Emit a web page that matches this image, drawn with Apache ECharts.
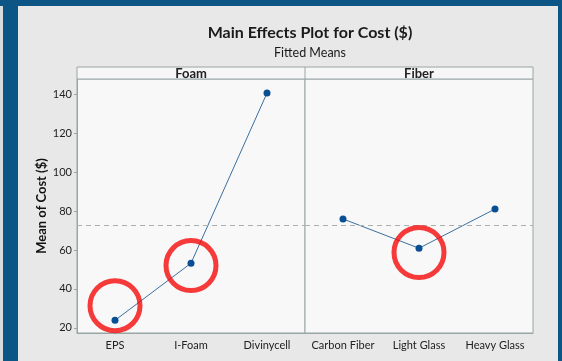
<!DOCTYPE html>
<html>
<head>
<meta charset="utf-8">
<script src="https://cdn.jsdelivr.net/npm/echarts@6/dist/echarts.min.js"></script>
<style>
  html, body { margin: 0; padding: 0; background: #e8e8e8; }
  #chart { width: 562px; height: 361px; }
</style>
</head>
<body>
<div id="chart"></div>
<script>
// Factor levels and fitted means of Cost ($)
const foamLevels = ['EPS', 'I-Foam', 'Divinycell'];
const foamMeans = [23.9, 53.2, 140.5];
const fiberLevels = ['Carbon Fiber', 'Light Glass', 'Heavy Glass'];
const fiberMeans = [75.9, 60.9, 81.0];
const grandMean = 72.8;
const yTicks = [20, 40, 60, 80, 100, 120, 140];

// Highlighted levels (ring centres, in Cost units)
const foamRings = [['EPS', 31.4], ['I-Foam', 52.0]];
const fiberRings = [['Light Glass', 58.7]];

const FONT = 'Lato, "Open Sans", sans-serif';
const FRAME = '#0c5584';
const EDGE = '#9aa6a6';
const POINT = '#0a4f94';
const LINE = '#3b6f9e';
const RING = '#f50a0a';

const chart = echarts.init(document.getElementById('chart'), null, { renderer: 'canvas' });

const yMin = 17.4, yMax = 147.7;

function valueAxis(gridIndex, showLabels) {
  return {
    type: 'value', gridIndex, min: yMin, max: yMax,
    name: showLabels ? 'Mean of Cost ($)' : '',
    nameLocation: 'middle', nameRotate: 90, nameGap: 29,
    nameTextStyle: { fontFamily: FONT, fontSize: 13, fontWeight: 'bold', color: '#111' },
    axisLine: { show: showLabels, lineStyle: { color: EDGE } },
    axisTick: { show: showLabels, length: 3, customValues: yTicks, lineStyle: { color: EDGE } },
    axisLabel: { show: showLabels, customValues: yTicks, margin: 5, fontFamily: FONT, fontSize: 11, color: '#222' },
    splitLine: { show: false }
  };
}

function catAxis(gridIndex, levels) {
  return {
    type: 'category', gridIndex, data: levels, boundaryGap: true,
    axisLine: { lineStyle: { color: EDGE } },
    axisTick: { alignWithLabel: true, length: 3, lineStyle: { color: EDGE } },
    axisLabel: { interval: 0, margin: 7, fontFamily: FONT, fontSize: 11, color: '#222' },
    splitLine: { show: false }
  };
}

function meansSeries(idx, values) {
  return {
    type: 'line', xAxisIndex: idx, yAxisIndex: idx, data: values,
    symbol: 'circle', symbolSize: 7,
    itemStyle: { color: POINT },
    lineStyle: { color: LINE, width: 1 },
    z: 3,
    markLine: {
      silent: true, symbol: 'none', label: { show: false },
      lineStyle: { color: '#a9b1b1', type: [5, 4], width: 1 },
      data: [{ yAxis: grandMean }]
    }
  };
}

function ringSeries(idx, rings) {
  return {
    type: 'scatter', xAxisIndex: idx, yAxisIndex: idx, data: rings,
    symbol: 'circle', symbolSize: 50, clip: false, silent: true, z: 5,
    itemStyle: { color: 'rgba(0,0,0,0)', borderColor: RING, borderWidth: 5 }
  };
}

chart.setOption({
  backgroundColor: '#e8e8e8',
  animation: false,
  title: [
    { text: 'Main Effects Plot for Cost ($)', left: 305, top: 20, textAlign: 'center',
      textStyle: { fontFamily: FONT, fontSize: 16, fontWeight: 'bold', color: '#1a1a1a' } },
    { text: 'Fitted Means', left: 305, top: 41, textAlign: 'center',
      textStyle: { fontFamily: FONT, fontSize: 12.5, fontWeight: 'normal', color: '#1a1a1a' } }
  ],
  grid: [
    { left: 77, top: 79, width: 228, height: 254, show: true, backgroundColor: '#f8f8f8', borderColor: EDGE, borderWidth: 1 },
    { left: 305, top: 79, width: 228, height: 254, show: true, backgroundColor: '#f8f8f8', borderColor: EDGE, borderWidth: 1 }
  ],
  xAxis: [catAxis(0, foamLevels), catAxis(1, fiberLevels)],
  yAxis: [valueAxis(0, true), valueAxis(1, false)],
  series: [
    meansSeries(0, foamMeans),
    meansSeries(1, fiberMeans),
    ringSeries(0, foamRings),
    ringSeries(1, fiberRings)
  ],
  graphic: [
    // panel header strip with factor names
    { type: 'rect', z: 1, shape: { x: 77, y: 67, width: 456, height: 12 },
      style: { fill: '#f6f6f6', stroke: EDGE, lineWidth: 1 } },
    { type: 'line', z: 1, shape: { x1: 305, y1: 67, x2: 305, y2: 79 },
      style: { stroke: EDGE, lineWidth: 1 } },
    { type: 'text', z: 2, x: 191, y: 73.5,
      style: { text: 'Foam', fontFamily: FONT, fontSize: 13, fontWeight: 'bold', fill: '#222', align: 'center', verticalAlign: 'middle' } },
    { type: 'text', z: 2, x: 419, y: 73.5,
      style: { text: 'Fiber', fontFamily: FONT, fontSize: 13, fontWeight: 'bold', fill: '#222', align: 'center', verticalAlign: 'middle' } },
    // window frame
    { type: 'rect', shape: { x: 0, y: 0, width: 3, height: 361 }, style: { fill: '#d9dddd' } },
    { type: 'rect', shape: { x: 3, y: 0, width: 15, height: 361 }, style: { fill: FRAME } },
    { type: 'rect', shape: { x: 0, y: 0, width: 562, height: 6 }, style: { fill: FRAME } },
    { type: 'rect', shape: { x: 558, y: 0, width: 4, height: 361 }, style: { fill: FRAME } }
  ]
});
</script>
</body>
</html>
